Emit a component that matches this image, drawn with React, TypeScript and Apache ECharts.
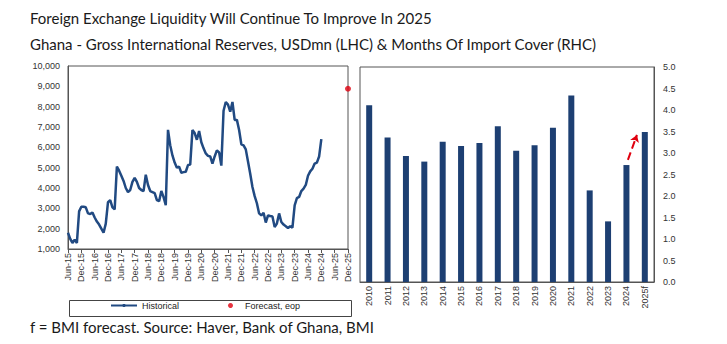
import React, { useEffect, useRef } from "react";
import * as echarts from "echarts";

// ---------- Data ----------
const MONTH_NAMES = ["Jan", "Feb", "Mar", "Apr", "May", "Jun", "Jul", "Aug", "Sep", "Oct", "Nov", "Dec"];
// Monthly categories Jun-15 .. Dec-25
const monthLabels: string[] = [];
for (let i = 0; i < 127; i++) {
  const mIdx = (5 + i) % 12;
  const yr = 15 + Math.floor((5 + i) / 12);
  monthLabels.push(`${MONTH_NAMES[mIdx]}-${yr}`);
}

// Gross international reserves, USDmn (monthly, Jun-15 .. Dec-24)
const historicalReserves = [
  1800, 1500, 1300, 1450, 1300, 2850, 3080, 3080, 3050, 2750, 2720, 2800,
  2550, 2350, 2200, 2000, 1800, 2250, 3300, 3400, 3050, 2950, 5050, 4850,
  4600, 4350, 4000, 3800, 3900, 4300, 4500, 4300, 4000, 3900, 3850, 4650,
  4150, 3850, 3800, 3750, 3400, 3350, 3850, 3550, 3150, 6860, 6100, 5600,
  5250, 5000, 5050, 4750, 4780, 4800, 5130, 5150, 6850, 6700, 6370, 6800,
  6250, 5950, 5700, 5580, 5550, 5200, 5550, 5850, 5750, 5100, 7800, 8230,
  8100, 7750, 8230, 7350, 7350, 6850, 6150, 6100, 5900, 5300, 4700, 4050,
  3600, 3250, 2750, 2650, 2780, 2300, 2650, 2620, 2600, 2080, 2250, 2750,
  2330, 2200, 2120, 2030, 2120, 2050, 3150, 3500, 3560, 3850, 3970, 4150,
  4600, 4820, 4950, 5200, 5250, 5550, 6400,
];
const forecastLabel = "Dec-25";
const forecastReserves = 8880;

// Months of import cover
const years = ["2010", "2011", "2012", "2013", "2014", "2015", "2016", "2017", "2018", "2019", "2020", "2021", "2022", "2023", "2024", "2025f"];
const importCover = [4.11, 3.36, 2.93, 2.8, 3.26, 3.16, 3.23, 3.62, 3.05, 3.18, 3.59, 4.34, 2.13, 1.41, 2.72, 3.49];
// Arrow annotation (category position, value)
const arrowStart = [14.08, 2.84];
const arrowEnd = [14.57, 3.42];

const leftTicks = [1000, 10000, 1000];
const rightTicks = [0, 5, 0.5];

const NAVY = "#1d3f72";
const LINE = "#214a82";
const AXIS = "#555555";
const AX_FONT = "Liberation Sans";

export default function App() {
  const ref = useRef<HTMLDivElement>(null);
  useEffect(() => {
    if (!ref.current) return;
    const chart = echarts.init(ref.current, null, { renderer: "svg" });
    const isSix = (i: number) => i % 6 === 0;
    chart.setOption({
      animation: false,
      backgroundColor: "#ffffff",
      textStyle: { fontFamily: AX_FONT },
      graphic: [
        {
          type: "text",
          left: 30,
          top: 10,
          style: { text: "Foreign Exchange Liquidity Will Continue To Improve In 2025", font: "15px Lato", fill: "#1a1a1a" },
        },
        {
          type: "text",
          left: 30,
          top: 36,
          style: { text: "Ghana - Gross International Reserves, USDmn (LHC) & Months Of Import Cover (RHC)", font: "15px Lato", fill: "#1a1a1a" },
        },
        {
          type: "text",
          left: 30,
          top: 319,
          style: { text: "f = BMI forecast. Source: Haver, Bank of Ghana, BMI", font: "15px Lato", fill: "#1a1a1a" },
        },
        {
          type: "rect",
          left: 67,
          top: 298,
          shape: { width: 282, height: 16 },
          style: { fill: "none", stroke: "#444", lineWidth: 1 },
          z: -1,
        },
      ],
      legend: [
        {
          data: ["Historical"],
          left: 110,
          top: 301,
          itemWidth: 26,
          itemHeight: 4,
          itemGap: 0,
          padding: 0,
          textStyle: { fontFamily: AX_FONT, fontSize: 9, color: "#222" },
        },
        {
          data: [{ name: "Forecast, eop", icon: "circle" }],
          left: 228,
          top: 301,
          itemWidth: 5,
          itemHeight: 5,
          padding: 0,
          textStyle: { fontFamily: AX_FONT, fontSize: 9, color: "#222", padding: [0, 0, 0, 7] },
        },
      ],
      grid: [
        { left: 68, top: 66, width: 280, height: 183, show: true, borderColor: AXIS, borderWidth: 1 },
        { left: 360, top: 67, width: 294, height: 215, show: true, borderColor: AXIS, borderWidth: 1 },
      ],
      xAxis: [
        {
          type: "category",
          gridIndex: 0,
          data: monthLabels,
          boundaryGap: false,
          axisLine: { lineStyle: { color: AXIS } },
          axisTick: { interval: isSix, length: 4, lineStyle: { color: AXIS } },
          axisLabel: { interval: isSix, rotate: 90, fontSize: 9, color: "#333", margin: 4, fontFamily: AX_FONT },
        },
        {
          type: "category",
          gridIndex: 1,
          data: years,
          axisLine: { lineStyle: { color: AXIS } },
          axisTick: { show: false },
          axisLabel: { rotate: 90, fontSize: 9, color: "#333", margin: 4, fontFamily: AX_FONT, interval: 0 },
        },
        {
          type: "value",
          gridIndex: 1,
          min: -0.5,
          max: years.length - 0.5,
          show: false,
        },
      ],
      yAxis: [
        {
          type: "value",
          gridIndex: 0,
          min: leftTicks[0],
          max: leftTicks[1],
          interval: leftTicks[2],
          splitLine: { show: false },
          axisLine: { show: true, onZero: false, lineStyle: { color: AXIS } },
          axisTick: { show: false },
          axisLabel: {
            fontSize: 9,
            color: "#333",
            margin: 8,
            fontFamily: AX_FONT,
            formatter: (v: number) => v.toLocaleString("en-US"),
          },
        },
        {
          type: "value",
          gridIndex: 1,
          position: "right",
          min: rightTicks[0],
          max: rightTicks[1],
          interval: rightTicks[2],
          splitLine: { show: false },
          axisLine: { show: true, onZero: false, lineStyle: { color: AXIS } },
          axisTick: { show: false },
          axisLabel: {
            fontSize: 9,
            color: "#333",
            margin: 9,
            fontFamily: AX_FONT,
            formatter: (v: number) => v.toFixed(1),
          },
        },
      ],
      series: [
        {
          name: "Historical",
          type: "line",
          xAxisIndex: 0,
          yAxisIndex: 0,
          data: historicalReserves,
          showSymbol: false,
          symbol: "none",
          lineStyle: { color: LINE, width: 2.5 },
          itemStyle: { color: LINE },
        },
        {
          name: "Forecast, eop",
          type: "scatter",
          xAxisIndex: 0,
          yAxisIndex: 0,
          data: [[forecastLabel, forecastReserves]],
          symbolSize: 6,
          itemStyle: { color: "#e0000f" },
        },
        {
          name: "Import cover",
          type: "bar",
          xAxisIndex: 1,
          yAxisIndex: 1,
          data: importCover,
          barWidth: 6,
          itemStyle: { color: NAVY },
        },
        {
          name: "arrow",
          type: "scatter",
          xAxisIndex: 2,
          yAxisIndex: 1,
          data: [],
          silent: true,
          markLine: {
            silent: true,
            symbol: ["none", "arrow"],
            symbolSize: 7,
            label: { show: false },
            lineStyle: { color: "#e0000f", type: "dashed", width: 2 },
            data: [[{ coord: arrowStart }, { coord: arrowEnd }]],
          },
        },
      ],
    });
    return () => chart.dispose();
  }, []);
  return <div ref={ref} style={{ position: "absolute", left: 0, top: 0, width: 727, height: 344 }} />;
}
